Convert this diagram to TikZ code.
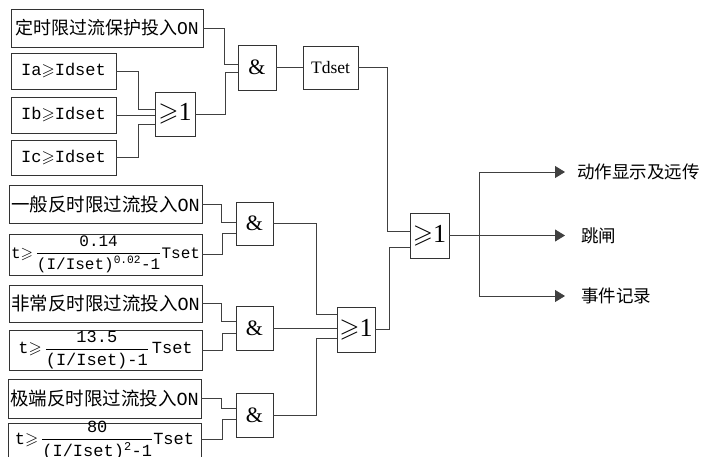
\documentclass[tikz,border=0pt]{standalone}
\usepackage{amssymb}
\usepackage{fontspec}
\setmainfont{Liberation Serif}
\newfontfamily\cjk{Noto Sans CJK SC}
\newfontfamily\mono{Liberation Mono}
\usetikzlibrary{arrows.meta}
\begin{document}
\begin{tikzpicture}[x=1pt,y=-1pt,
  box/.style={draw=black!80, line width=0.8pt, inner sep=0pt, rectangle},
  wire/.style={draw=black!75, line width=0.8pt},
  arr/.style={wire, -{Triangle[length=10pt,width=12pt]}},
  cjkA/.style={font=\cjk\fontsize{18}{20}\selectfont},
  cjkB/.style={font=\cjk\fontsize{18.5}{20}\selectfont},
  ibox/.style={font=\mono\fontsize{17}{20}\selectfont},
  fbox/.style={font=\mono\fontsize{16}{18}\selectfont},
  gatet/.style={font=\fontsize{22}{24}\selectfont},
  orgt/.style={font=\fontsize{26}{28}\selectfont},
  lbl/.style={font=\cjk\fontsize{17.5}{20}\selectfont, anchor=west, inner sep=0pt}]
\useasboundingbox (0,0) rectangle (705,457);
\fill[white] (0,0) rectangle (705,457);
\clip (0,0) rectangle (705,457);
% input boxes
\node[box, cjkA, minimum width=192pt, minimum height=38pt] (on1) at (107,28) {定时限过流保护投入{\mono ON}};
\node[box, ibox, minimum width=105pt, minimum height=36pt] (ia) at (63.5,71) {Ia$\geqslant$Idset};
\node[box, ibox, minimum width=105pt, minimum height=36pt] (ib) at (63.5,115) {Ib$\geqslant$Idset};
\node[box, ibox, minimum width=105pt, minimum height=35pt] (ic) at (63.5,157.5) {Ic$\geqslant$Idset};
\node[box, cjkB, minimum width=193pt, minimum height=38pt] (on2) at (105.5,204) {一般反时限过流投入{\mono ON}};
\node[box, fbox, minimum width=193pt, minimum height=41pt] (f1) at (105.5,254.5)
  {t$\geqslant$\,$\displaystyle\frac{\mbox{\mono 0.14}}{\mbox{\mono (I/Iset)\textsuperscript{0.02}-1}}$Tset};
\node[box, cjkB, minimum width=193pt, minimum height=37pt] (on3) at (105.5,303.5) {非常反时限过流投入{\mono ON}};
\node[box, fbox, font=\mono\fontsize{17}{18}\selectfont, minimum width=193pt, minimum height=40pt] (f2) at (105.5,350)
  {t$\geqslant$\,$\displaystyle\frac{\mbox{\mono 13.5}}{\mbox{\mono (I/Iset)-1}}$\,Tset};
\node[box, cjkB, minimum width=193pt, minimum height=39pt] (on4) at (104.5,398.5) {极端反时限过流投入{\mono ON}};
\node[box, fbox, font=\mono\fontsize{17}{18}\selectfont, minimum width=193pt, minimum height=42pt] (f3) at (104.5,444)
  {\raisebox{0pt}[0pt][0pt]{t$\geqslant$\,$\displaystyle\frac{\mbox{\mono 80}}{\mbox{\mono (I/Iset)\textsuperscript{2}-1}}$Tset}};
% gates
\node[box, orgt, minimum width=40pt, minimum height=44pt] (or1) at (175,114) {$\geqslant$1};
\node[box, gatet, minimum width=38pt, minimum height=45pt] (and1) at (257,67.5) {\&};
\node[box, font=\fontsize{17.5}{20}\selectfont, minimum width=55pt, minimum height=43pt] (td) at (330.5,67.5) {Tdset};
\node[box, gatet, minimum width=37pt, minimum height=43pt] (and2) at (254.5,223.5) {\&};
\node[box, gatet, minimum width=37pt, minimum height=44pt] (and3) at (254.5,328) {\&};
\node[box, gatet, minimum width=37pt, minimum height=44pt] (and4) at (254.5,415) {\&};
\node[box, orgt, minimum width=38pt, minimum height=45pt] (or2) at (356,329.5) {$\geqslant$1};
\node[box, orgt, minimum width=39pt, minimum height=45pt] (or3) at (429.5,235.5) {$\geqslant$1};
% outputs
\node[lbl] (o1) at (577,172) {动作显示及远传};
\node[lbl] (o2) at (581,235.5) {跳闸};
\node[lbl] (o3) at (581,296) {事件记录};
\coordinate (t1) at (565,172);
\coordinate (t2) at (565,235.5);
\coordinate (t3) at (565,296);
\coordinate (b1) at (479,172);
\coordinate (b3) at (479,296);
% wires top
\draw[wire] (on1.east) -| (224,64) -- (224,64 -| and1.west);
\draw[wire] (or1.east) -| (225,72) -- (225,72 -| and1.west);
\draw[wire] (ia.east) -| (138,109) -- (138,109 -| or1.west);
\draw[wire] (ib.east) -- (or1.west |- ib.east);
\draw[wire] (ic.east) -| (138,124) -- (138,124 -| or1.west);
\draw[wire] (and1.east) -- (td.west);
\draw[wire] (td.east) -| (387,231) -- (387,231 -| or3.west);
% wires lower
\draw[wire] (on2.east) -| (221,222) -- (221,222 -| and2.west);
\draw[wire] (f1.east) -| (222,233) -- (222,233 -| and2.west);
\draw[wire] (on3.east) -| (221,321) -- (221,321 -| and3.west);
\draw[wire] (f2.east) -| (222,333) -- (222,333 -| and3.west);
\draw[wire] (on4.east) -| (221,408) -- (221,408 -| and4.west);
\draw[wire] (f3.east |- 0,439) -| (222,419) -- (222,419 -| and4.west);
\draw[wire] (and2.east) -| (316,314) -- (316,314 -| or2.west);
\draw[wire] (and3.east) -- (or2.west |- and3.east);
\draw[wire] (and4.east) -| (316,338) -- (316,338 -| or2.west);
\draw[wire] (or2.east) -| (389.5,247) -- (389.5,247 -| or3.west);
% output fan
\draw[wire] (b1) -- (b3);
\draw[arr] (b1) -- (t1);
\draw[arr] (or3.east) -- (t2);
\draw[arr] (b3) -- (t3);
\end{tikzpicture}
\end{document}
